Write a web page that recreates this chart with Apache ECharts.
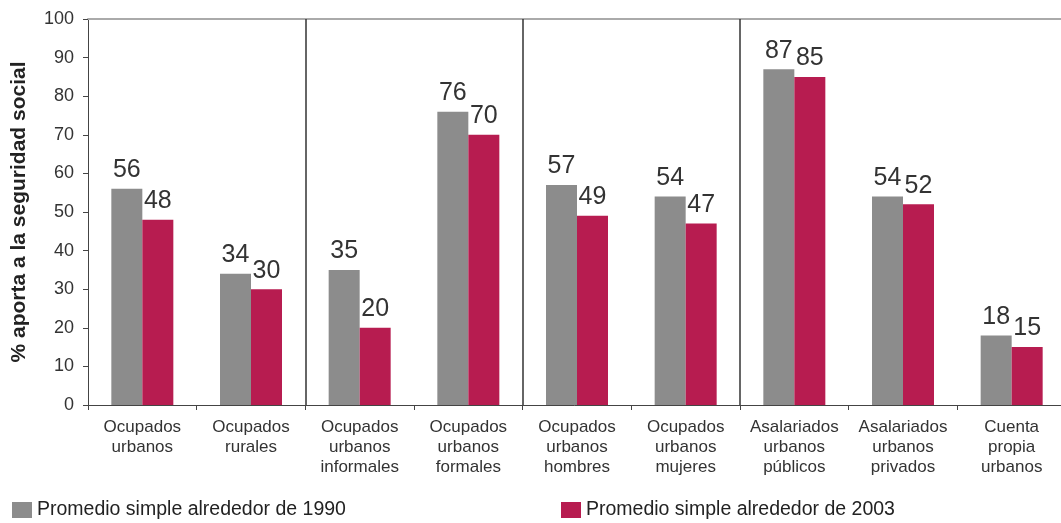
<!DOCTYPE html>
<html>
<head>
<meta charset="utf-8">
<script src="https://cdn.jsdelivr.net/npm/echarts@6/dist/echarts.min.js"></script>
<style>
html,body{margin:0;padding:0;background:#fff;}
#chart{width:1061px;height:523px;}
</style>
</head>
<body>
<div id="chart"></div>
<script>
var categories = [
  "Ocupados\nurbanos",
  "Ocupados\nrurales",
  "Ocupados\nurbanos\ninformales",
  "Ocupados\nurbanos\nformales",
  "Ocupados\nurbanos\nhombres",
  "Ocupados\nurbanos\nmujeres",
  "Asalariados\nurbanos\npúblicos",
  "Asalariados\nurbanos\nprivados",
  "Cuenta\npropia\nurbanos"
];
var series1990 = [56, 34, 35, 76, 57, 54, 87, 54, 18];
var series2003 = [48, 30, 20, 70, 49, 47, 85, 52, 15];
var name1990 = "Promedio simple alrededor de 1990";
var name2003 = "Promedio simple alrededor de 2003";
var yTicks = [0, 10, 20, 30, 40, 50, 60, 70, 80, 90, 100];
var separatorIndices = [2, 4, 6];
var yAxisName = "% aporta a la seguridad social";

var chart = echarts.init(document.getElementById('chart'), null, {renderer: 'canvas'});
var font = 'Liberation Sans, Arial, sans-serif';
var labelStyle = {
  show: true, position: 'top', distance: 6,
  fontFamily: font, fontSize: 25, color: '#333'
};
chart.setOption({
  animation: false,
  backgroundColor: '#fff',
  textStyle: {fontFamily: font},
  grid: {left: 88, right: -5, top: 19, bottom: 118, containLabel: false, outerBoundsMode: 'none'},
  legend: [
    {data: [name1990], left: 12, top: 500, padding: 0, itemWidth: 20, itemHeight: 16, icon: 'rect',
     textStyle: {fontFamily: font, fontSize: 19.5, color: '#222'}},
    {data: [name2003], left: 561, top: 500, padding: 0, itemWidth: 20, itemHeight: 16, icon: 'rect',
     textStyle: {fontFamily: font, fontSize: 19.5, color: '#222'}}
  ],
  xAxis: [{
    type: 'category',
    data: categories,
    axisLine: {lineStyle: {color: '#444', width: 1}},
    axisTick: {show: true, length: 5, lineStyle: {color: '#444'}},
    axisLabel: {fontFamily: font, fontSize: 17, lineHeight: 20, color: '#333', margin: 12, interval: 0},
    splitLine: {show: false}
  }, {
    type: 'category',
    position: 'top',
    data: categories,
    axisLine: {lineStyle: {color: '#aaa', width: 2}},
    axisTick: {show: false},
    axisLabel: {show: false}
  }, {
    type: 'value',
    show: false,
    min: 0,
    max: categories.length
  }],
  yAxis: {
    type: 'value',
    min: yTicks[0], max: yTicks[yTicks.length - 1], interval: 10,
    name: yAxisName,
    nameLocation: 'middle',
    nameGap: 58,
    nameRotate: 90,
    nameTextStyle: {fontFamily: font, fontSize: 21, fontWeight: 'bold', color: '#222'},
    axisLine: {show: true, lineStyle: {color: '#444'}},
    axisTick: {show: true, length: 5, lineStyle: {color: '#444'}},
    axisLabel: {fontFamily: font, fontSize: 18, color: '#333', margin: 14},
    splitLine: {show: false}
  },
  series: [
    {name: name1990, type: 'bar', data: series1990, barWidth: 31, barGap: '0%',
     itemStyle: {color: '#8c8c8c'}, label: labelStyle},
    {name: name2003, type: 'bar', data: series2003, barWidth: 31, barGap: '0%',
     itemStyle: {color: '#b71c50'}, label: labelStyle},
    {name: 'separadores', type: 'line', xAxisIndex: 2, data: [], silent: true,
     markLine: {
       silent: true, symbol: 'none', animation: false,
       label: {show: false},
       lineStyle: {color: '#333', width: 1.5, type: 'solid'},
       data: separatorIndices.map(function (i) { return {xAxis: i}; })
     }}
  ]
});
</script>
</body>
</html>
